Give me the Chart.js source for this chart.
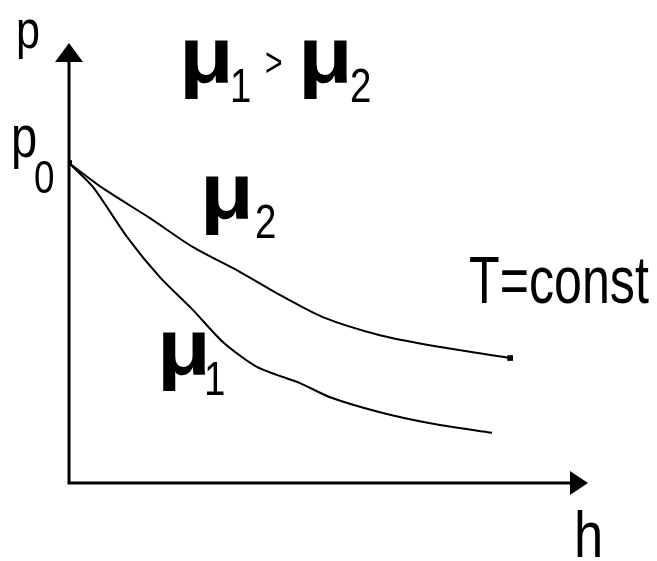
<!DOCTYPE html>
<html>
<head>
<meta charset="utf-8">
<script src="https://cdn.jsdelivr.net/npm/chart.js@4.4.1/dist/chart.umd.min.js"></script>
<style>
  html, body { margin: 0; padding: 0; background: #fff; }
  #wrap { width: 657px; height: 561px; }
</style>
</head>
<body>
<div id="wrap"><canvas id="myChart" width="657" height="561"></canvas></div>
<script>
// altura h (unidades arbitrarias) y presión p
const alturaMu2 = [0, 0.65, 1.56, 2.39, 3.29, 4.07, 4.89, 5.99, 7.15, 8.50];
const presionMu2 = [7.27, 6.70, 6.02, 5.36, 4.80, 4.27, 3.77, 3.36, 3.09, 2.84];

const alturaMu1 = [0, 0.46, 1.12, 1.75, 2.39, 2.97, 3.62, 4.45, 5.03, 5.99, 6.96, 8.15];
const presionMu1 = [7.27, 6.73, 5.59, 4.68, 3.93, 3.20, 2.64, 2.27, 1.95, 1.61, 1.36, 1.14];

const ejeX = { min: 0, max: 10 };
const ejeY = { min: 0, max: 10 };

const SANS = "'Liberation Sans', Arial, sans-serif";
const MU = "bold 80px " + SANS;

// textos del dibujo (posición en píxeles, línea base, compresión horizontal)
const textos = [
    { t: 'p', x: 16, y: 48, font: '54px ' + SANS, sx: 0.8 },
    { t: 'p', x: 11, y: 157, font: '59px ' + SANS, sx: 0.8 },
    { t: '0', x: 34, y: 193, font: '46px ' + SANS, sx: 0.8 },
    { t: 'μ', x: 179, y: 82, font: MU, sx: 1.12 },
    { t: '1', x: 230, y: 102, font: '48px ' + SANS, sx: 0.8 },
    { t: '>', x: 265, y: 76, font: '40px ' + SANS, sx: 0.75 },
    { t: 'μ', x: 298, y: 82, font: MU, sx: 1.12 },
    { t: '2', x: 350, y: 102, font: '48px ' + SANS, sx: 0.8 },
    { t: 'μ', x: 200, y: 218, font: MU, sx: 1.1 },
    { t: '2', x: 255, y: 238, font: '48px ' + SANS, sx: 0.8 },
    { t: 'μ', x: 157, y: 374, font: MU, sx: 1.1 },
    { t: '1', x: 204, y: 395, font: '48px ' + SANS, sx: 0.8 },
    { t: 'T=const', x: 469, y: 303, font: '66px ' + SANS, sx: 0.76 },
    { t: 'h', x: 574, y: 557, font: '64px ' + SANS, sx: 0.82 }
];

const puntos = (xs, ys) => xs.map((x, i) => ({ x: x, y: ys[i] }));

const ejesConFlechas = {
    id: 'ejesConFlechas',
    beforeDatasetsDraw(chart) {
        const { ctx, chartArea, scales } = chart;
        const x0 = scales.x.getPixelForValue(0);
        const y0 = scales.y.getPixelForValue(0);
        ctx.save();
        ctx.strokeStyle = '#000';
        ctx.fillStyle = '#000';
        ctx.lineWidth = 3;
        ctx.beginPath();
        ctx.moveTo(x0, chartArea.top + 10);
        ctx.lineTo(x0, y0);
        ctx.lineTo(chartArea.right - 10, y0);
        ctx.stroke();
        // flecha vertical
        ctx.beginPath();
        ctx.moveTo(x0, chartArea.top);
        ctx.lineTo(x0 - 14, chartArea.top + 19);
        ctx.lineTo(x0 + 14, chartArea.top + 19);
        ctx.closePath();
        ctx.fill();
        // flecha horizontal
        ctx.beginPath();
        ctx.moveTo(chartArea.right, y0);
        ctx.lineTo(chartArea.right - 18, y0 - 12);
        ctx.lineTo(chartArea.right - 18, y0 + 12);
        ctx.closePath();
        ctx.fill();
        ctx.restore();
    },
    afterDraw(chart) {
        const ctx = chart.ctx;
        ctx.fillStyle = '#000';
        textos.forEach(l => {
            ctx.save();
            ctx.textBaseline = 'alphabetic';
            ctx.textAlign = 'left';
            ctx.font = l.font;
            ctx.translate(l.x, l.y);
            ctx.scale(l.sx, 1);
            ctx.fillText(l.t, 0, 0);
            ctx.restore();
        });
    }
};

const serie = (datos, finMarcado) => ({
    data: datos,
    showLine: true,
    borderColor: '#000',
    borderWidth: 2,
    tension: 0.25,
    backgroundColor: '#000',
    pointStyle: 'rect',
    pointRadius: c => (c.dataIndex === 0 || (finMarcado && c.dataIndex === datos.length - 1)) ? 4 : 0,
    pointBorderWidth: 0
});

new Chart(document.getElementById('myChart'), {
    type: 'scatter',
    data: {
        datasets: [
            serie(puntos(alturaMu2, presionMu2), true),
            serie(puntos(alturaMu1, presionMu1), false)
        ]
    },
    options: {
        responsive: false,
        animation: false,
        layout: { padding: { left: 69, top: 43, right: 69, bottom: 78 } },
        plugins: { legend: { display: false }, tooltip: { enabled: false } },
        scales: {
            x: { type: 'linear', min: ejeX.min, max: ejeX.max, display: false },
            y: { type: 'linear', min: ejeY.min, max: ejeY.max, display: false }
        }
    },
    plugins: [ejesConFlechas]
});
</script>
</body>
</html>
